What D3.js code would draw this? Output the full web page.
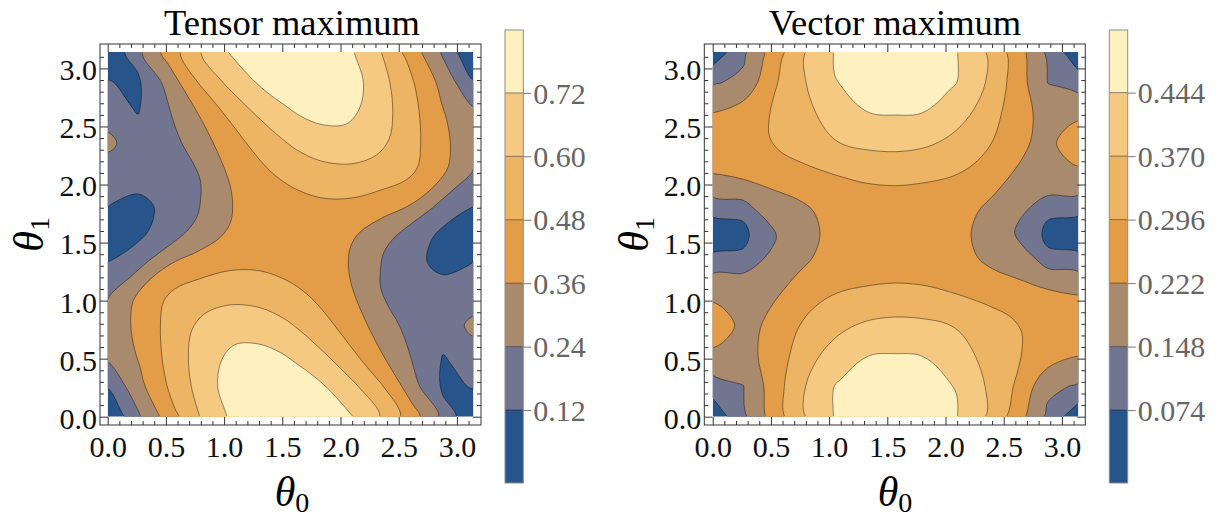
<!DOCTYPE html>
<html>
<head>
<meta charset="utf-8">
<script src="https://cdn.jsdelivr.net/npm/d3@7"></script>
<style>
  body { margin: 0; background: #fff; }
  text { font-family: "Liberation Serif", "Times New Roman", serif; }
</style>
</head>
<body>
<svg id="chart" width="1218" height="517"></svg>
<script>
// theta0 / theta1 run from 0 to pi, sampled on 13 nodes (step pi/12)
// rows: theta1 = 0 (first row) ... pi (last row); columns: theta0 = 0 ... pi
var axisTicks = [0, 0.5, 1, 1.5, 2, 2.5, 3];
var titles = ['Tensor maximum', 'Vector maximum'];

var tensorLevels = [0.12, 0.24, 0.36, 0.48, 0.60, 0.72];
var tensorBarRange = [-0.018, 0.839];
var tensorGrid = [
    [0.00, 0.219, 0.416, 0.596, 0.732, 0.80, 0.83, 0.80, 0.725, 0.59, 0.411, 0.212, 0.00],
    [0.128, 0.321, 0.492, 0.65, 0.765, 0.81, 0.795, 0.74, 0.631, 0.488, 0.29, 0.08, 0.13],
    [0.265, 0.365, 0.518, 0.657, 0.75, 0.775, 0.71, 0.625, 0.505, 0.366, 0.225, 0.115, 0.185],
    [0.305, 0.394, 0.522, 0.63, 0.685, 0.675, 0.61, 0.521, 0.424, 0.30, 0.215, 0.17, 0.27],
    [0.228, 0.384, 0.50, 0.55, 0.58, 0.57, 0.515, 0.455, 0.368, 0.235, 0.18, 0.138, 0.17],
    [0.125, 0.21, 0.368, 0.42, 0.468, 0.47, 0.445, 0.40, 0.35, 0.23, 0.125, 0.085, 0.125],
    [0.07, 0.09, 0.185, 0.265, 0.365, 0.40, 0.41, 0.40, 0.365, 0.265, 0.185, 0.09, 0.07],
    [0.125, 0.085, 0.125, 0.23, 0.35, 0.40, 0.445, 0.47, 0.468, 0.42, 0.368, 0.21, 0.125],
    [0.17, 0.138, 0.18, 0.235, 0.368, 0.455, 0.515, 0.57, 0.58, 0.55, 0.50, 0.384, 0.228],
    [0.27, 0.17, 0.215, 0.30, 0.424, 0.521, 0.61, 0.675, 0.685, 0.63, 0.522, 0.394, 0.305],
    [0.185, 0.115, 0.225, 0.366, 0.505, 0.625, 0.71, 0.775, 0.75, 0.657, 0.518, 0.365, 0.265],
    [0.13, 0.08, 0.29, 0.488, 0.631, 0.74, 0.795, 0.81, 0.765, 0.65, 0.492, 0.321, 0.128],
    [0.00, 0.212, 0.411, 0.59, 0.725, 0.80, 0.83, 0.80, 0.732, 0.596, 0.416, 0.219, 0.00]
];

var vectorLevels = [0.074, 0.148, 0.222, 0.296, 0.370, 0.444];
var vectorBarRange = [-0.011, 0.517];
var vectorGrid = [
    [0.02, 0.132, 0.256, 0.366, 0.447, 0.48, 0.495, 0.48, 0.447, 0.366, 0.256, 0.132, 0.02],
    [0.11, 0.146, 0.258, 0.366, 0.445, 0.475, 0.485, 0.475, 0.443, 0.365, 0.285, 0.165, 0.14],
    [0.215, 0.20, 0.251, 0.35, 0.405, 0.445, 0.452, 0.444, 0.405, 0.36, 0.305, 0.258, 0.222],
    [0.24, 0.215, 0.232, 0.31, 0.35, 0.382, 0.395, 0.388, 0.368, 0.34, 0.302, 0.268, 0.25],
    [0.216, 0.208, 0.216, 0.272, 0.30, 0.315, 0.322, 0.318, 0.297, 0.282, 0.262, 0.242, 0.222],
    [0.12, 0.125, 0.162, 0.22, 0.242, 0.258, 0.262, 0.262, 0.248, 0.218, 0.185, 0.135, 0.126],
    [0.005, 0.03, 0.14, 0.183, 0.225, 0.24, 0.245, 0.24, 0.225, 0.183, 0.14, 0.03, 0.005],
    [0.126, 0.135, 0.185, 0.218, 0.248, 0.262, 0.262, 0.258, 0.242, 0.22, 0.162, 0.125, 0.12],
    [0.222, 0.242, 0.262, 0.282, 0.297, 0.318, 0.322, 0.315, 0.30, 0.272, 0.216, 0.208, 0.216],
    [0.25, 0.268, 0.302, 0.34, 0.368, 0.388, 0.395, 0.382, 0.35, 0.31, 0.232, 0.215, 0.24],
    [0.222, 0.258, 0.305, 0.36, 0.405, 0.444, 0.452, 0.445, 0.405, 0.35, 0.251, 0.20, 0.215],
    [0.14, 0.165, 0.285, 0.365, 0.443, 0.475, 0.485, 0.475, 0.445, 0.366, 0.258, 0.146, 0.11],
    [0.02, 0.132, 0.256, 0.366, 0.447, 0.48, 0.495, 0.48, 0.447, 0.366, 0.256, 0.132, 0.02]
];

var bandColors = ['#27548a', '#72758f', '#aa8a6d', '#e39d49', '#edb463', '#f6c983', '#fef1bf'];

(function () {
    'use strict';
    var serif = '"Liberation Serif", "Times New Roman", serif';
    var svg = d3.select('#chart');

    var panels = [
        { title: titles[0], grid: tensorGrid, levels: tensorLevels, barRange: tensorBarRange, fmt: d3.format('.2f'),
          frame: [100, 44, 481, 425], plot: [107.7, 473.4, 416.7, 52], bar: [505, 523.3], cx: 292, ylab: 43 },
        { title: titles[1], grid: vectorGrid, levels: vectorLevels, barRange: vectorBarRange, fmt: d3.format('.3f'),
          frame: [704.3, 44, 1085.3, 425], plot: [712.7, 1078.4, 416.7, 52], bar: [1109.3, 1127.7], cx: 895, ylab: 648 }
    ];

    panels.forEach(function (p, pi) {
        var n = p.grid.length;
        var step = Math.PI / (n - 1);
        var x = d3.scaleLinear().domain([0, Math.PI]).range([p.plot[0], p.plot[1]]);
        var y = d3.scaleLinear().domain([0, Math.PI]).range([p.plot[2], p.plot[3]]);
        var values = [].concat.apply([], p.grid);

        var contours = d3.contours().size([n, n]).thresholds(p.levels)(values);
        var ring = d3.line().curve(d3.curveCatmullRomClosed.alpha(0.5));

        // soften the marching-squares zigzag on interior runs; vertices on or next to the border stay put
        var onEdge = function (pt) {
            return pt[0] <= 0.5 || pt[0] >= n - 0.5 || pt[1] <= 0.5 || pt[1] >= n - 0.5;
        };
        var soften = function (pts) {
            var m = pts.length;
            if (m < 5) return pts;
            return pts.map(function (pt, i) {
                var a = pts[(i - 1 + m) % m], b = pts[(i + 1) % m];
                if (onEdge(pt) || onEdge(a) || onEdge(b)) return pt;
                return [0.25 * a[0] + 0.5 * pt[0] + 0.25 * b[0], 0.25 * a[1] + 0.5 * pt[1] + 0.25 * b[1]];
            });
        };
        var toPath = function (c) {
            return c.coordinates.map(function (poly) {
                return poly.map(function (r) {
                    return ring(soften(r.slice(0, -1)).map(function (pt) {
                        return [x((pt[0] - 0.5) * step), y((pt[1] - 0.5) * step)];
                    }));
                }).join('');
            }).join('');
        };

        var defs = svg.append('defs');
        defs.append('clipPath').attr('id', 'clip' + pi).append('rect')
            .attr('x', x(0)).attr('y', y(Math.PI))
            .attr('width', x(Math.PI) - x(0)).attr('height', y(0) - y(Math.PI));
        defs.append('clipPath').attr('id', 'clipIn' + pi).append('rect')
            .attr('x', x(0) + 0.7).attr('y', y(Math.PI) + 0.7)
            .attr('width', x(Math.PI) - x(0) - 1.4).attr('height', y(0) - y(Math.PI) - 1.4);

        var plot = svg.append('g').attr('clip-path', 'url(#clip' + pi + ')');
        plot.append('rect')
            .attr('x', x(0)).attr('y', y(Math.PI))
            .attr('width', x(Math.PI) - x(0)).attr('height', y(0) - y(Math.PI))
            .attr('fill', bandColors[0]);
        plot.selectAll('path.band').data(contours).enter()
            .append('path').attr('class', 'band')
            .attr('d', toPath)
            .attr('fill-rule', 'evenodd')
            .attr('fill', function (d, i) { return bandColors[i + 1]; });

        svg.append('g').attr('clip-path', 'url(#clipIn' + pi + ')')
            .selectAll('path').data(contours).enter()
            .append('path')
            .attr('d', toPath)
            .attr('fill', 'none')
            .attr('stroke', '#000')
            .attr('stroke-opacity', 0.5)
            .attr('stroke-width', 0.85);

        // frame
        svg.append('rect')
            .attr('x', p.frame[0]).attr('y', p.frame[1])
            .attr('width', p.frame[2] - p.frame[0]).attr('height', p.frame[3] - p.frame[1])
            .attr('fill', 'none').attr('stroke', '#333').attr('stroke-width', 1);

        var minor = d3.range(0, 3.15, 0.1).filter(function (v) {
            return Math.abs(v * 2 - Math.round(v * 2)) > 1e-6;
        });
        var styleAxis = function (g) {
            g.select('.domain').remove();
            g.attr('color', '#333').attr('font-family', serif).attr('font-size', 30);
            g.selectAll('text').attr('fill', '#111').style('font-family', serif);
        };
        // major ticks + labels
        svg.append('g').attr('transform', 'translate(0,' + p.frame[3] + ')')
            .call(d3.axisBottom(x).tickValues(axisTicks).tickFormat(d3.format('.1f'))
                .tickSizeInner(-8).tickSizeOuter(0).tickPadding(11))
            .call(styleAxis);
        svg.append('g').attr('transform', 'translate(' + p.frame[0] + ',0)')
            .call(d3.axisLeft(y).tickValues(axisTicks).tickFormat(d3.format('.1f'))
                .tickSizeInner(-8).tickSizeOuter(0).tickPadding(3))
            .call(styleAxis)
            .selectAll('text').attr('dy', '0.38em');
        svg.append('g').attr('transform', 'translate(0,' + p.frame[1] + ')')
            .call(d3.axisTop(x).tickValues(axisTicks).tickFormat('').tickSizeInner(-8).tickSizeOuter(0))
            .call(styleAxis);
        svg.append('g').attr('transform', 'translate(' + p.frame[2] + ',0)')
            .call(d3.axisRight(y).tickValues(axisTicks).tickFormat('').tickSizeInner(-8).tickSizeOuter(0))
            .call(styleAxis);
        // minor ticks
        [['axisBottom', x, 0, p.frame[3]], ['axisTop', x, 0, p.frame[1]],
         ['axisLeft', y, p.frame[0], 0], ['axisRight', y, p.frame[2], 0]].forEach(function (a) {
            svg.append('g').attr('transform', 'translate(' + a[2] + ',' + a[3] + ')')
                .call(d3[a[0]](a[1]).tickValues(minor).tickFormat('').tickSizeInner(-4).tickSizeOuter(0))
                .call(styleAxis);
        });

        // title and axis labels
        svg.append('text').attr('x', p.cx).attr('y', 35)
            .attr('text-anchor', 'middle').attr('font-size', 36.5).attr('fill', '#000')
            .style('font-family', serif)
            .text(p.title);

        var xl = svg.append('text').attr('x', p.cx).attr('y', 506)
            .attr('text-anchor', 'middle').attr('font-size', 42).attr('fill', '#000')
            .style('font-family', serif);
        xl.append('tspan').attr('font-style', 'italic').text('θ');
        xl.append('tspan').attr('font-size', 28).attr('dy', 6).text('0');

        var yl = svg.append('text')
            .attr('transform', 'translate(' + p.ylab + ',' + ((p.plot[2] + p.plot[3]) / 2) + ') rotate(-90)')
            .attr('text-anchor', 'middle').attr('font-size', 42).attr('fill', '#000')
            .style('font-family', serif);
        yl.append('tspan').attr('font-style', 'italic').text('θ');
        yl.append('tspan').attr('font-size', 28).attr('dy', 6).text('1');

        // colour bar
        var bs = d3.scaleLinear().domain(p.barRange).range([483, 30]);
        var edges = [p.barRange[0]].concat(p.levels, [p.barRange[1]]);
        var bw = p.bar[1] - p.bar[0];
        var barG = svg.append('g');
        barG.selectAll('rect').data(bandColors).enter()
            .append('rect')
            .attr('x', p.bar[0])
            .attr('y', function (d, i) { return bs(edges[i + 1]); })
            .attr('width', bw)
            .attr('height', function (d, i) { return bs(edges[i]) - bs(edges[i + 1]); })
            .attr('fill', function (d) { return d; });
        barG.selectAll('line').data(p.levels).enter()
            .append('line')
            .attr('x1', p.bar[0]).attr('x2', p.bar[1])
            .attr('y1', function (d) { return bs(d); }).attr('y2', function (d) { return bs(d); })
            .attr('stroke', '#000').attr('stroke-opacity', 0.45).attr('stroke-width', 1);
        barG.append('rect')
            .attr('x', p.bar[0]).attr('y', bs(p.barRange[1]))
            .attr('width', bw).attr('height', bs(p.barRange[0]) - bs(p.barRange[1]))
            .attr('fill', 'none').attr('stroke', '#8c8c8c').attr('stroke-width', 1);
        svg.append('g').attr('transform', 'translate(' + p.bar[1] + ',0)')
            .call(d3.axisRight(bs).tickValues(p.levels).tickFormat(p.fmt).tickSize(8).tickPadding(2))
            .call(function (g) {
                g.select('.domain').remove();
                g.attr('color', '#777').attr('font-family', serif).attr('font-size', 30);
                g.selectAll('text').attr('fill', '#666').attr('dy', '0.34em').style('font-family', serif);
            });
    });
}());
</script>
</body>
</html>
